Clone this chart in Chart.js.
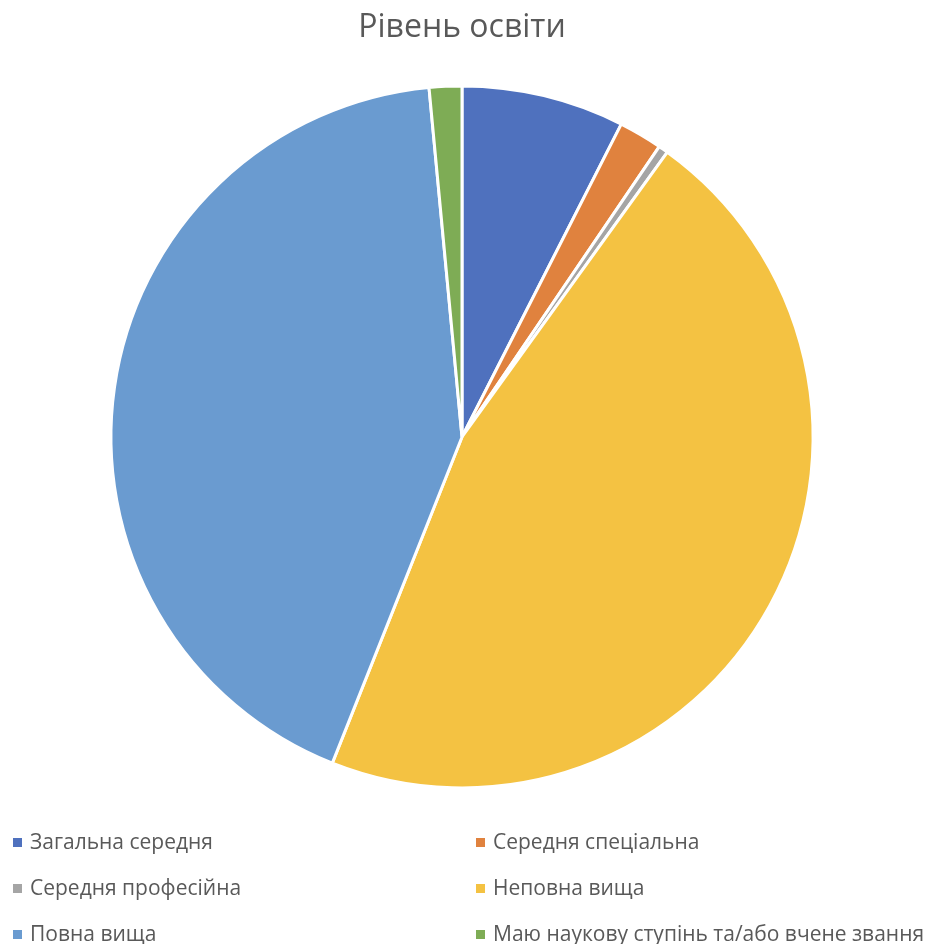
<!DOCTYPE html>
<html>
<head>
<meta charset="utf-8">
<script src="https://cdn.jsdelivr.net/npm/chart.js@4/dist/chart.umd.min.js"></script>
<style>
  body { margin: 0; background: #fff; }
  #wrap { position: relative; width: 926px; height: 944px; }
  #legend { position: absolute; left: 0; top: 820px; width: 926px; font-family: "Liberation Sans Narrow", "Open Sans", sans-serif; font-size: 21px; color: #595959; }
  .item { position: absolute; white-space: nowrap; line-height: 24px; }
  .box { display: inline-block; width: 9px; height: 9px; margin-right: 8px; vertical-align: 2px; }
</style>
</head>
<body>
<div id="wrap">
  <canvas id="chart" width="926" height="944"></canvas>
  <div id="legend"></div>
</div>
<script>
const labels = [
  "Загальна середня",
  "Середня спеціальна",
  "Середня професійна",
  "Неповна вища",
  "Повна вища",
  "Маю наукову ступінь та/або вчене звання"
];
const values = [7.5, 2.0, 0.45, 46.1, 42.5, 1.5];
const colors = ["#4F71BE", "#E0823E", "#A5A5A5", "#F4C242", "#6A9BD0", "#7EAC55"];

new Chart(document.getElementById("chart"), {
  type: "pie",
  data: {
    labels: labels,
    datasets: [{
      data: values,
      backgroundColor: colors,
      borderColor: "#ffffff",
      borderWidth: 3
    }]
  },
  options: {
    responsive: false,
    animation: false,
    layout: { padding: { top: 0, bottom: 154.5, left: 0, right: 2 } },
    plugins: {
      legend: { display: false },
      tooltip: { enabled: false },
      title: {
        display: true,
        text: "Рівень освіти",
        color: "#595959",
        font: { family: "'Liberation Sans Narrow', 'Open Sans', sans-serif", size: 32, weight: "normal" },
        padding: { top: 9, bottom: 37 }
      }
    }
  }
});

// two-column legend like the original
const legend = document.getElementById("legend");
labels.forEach((name, i) => {
  const el = document.createElement("div");
  el.className = "item";
  el.style.left = (i % 2 === 0 ? 13 : 476) + "px";
  el.style.top = (Math.floor(i / 2) * 46 + 9) + "px";
  el.innerHTML = '<span class="box" style="background:' + colors[i] + '"></span>' + name;
  legend.appendChild(el);
});
</script>
</body>
</html>
